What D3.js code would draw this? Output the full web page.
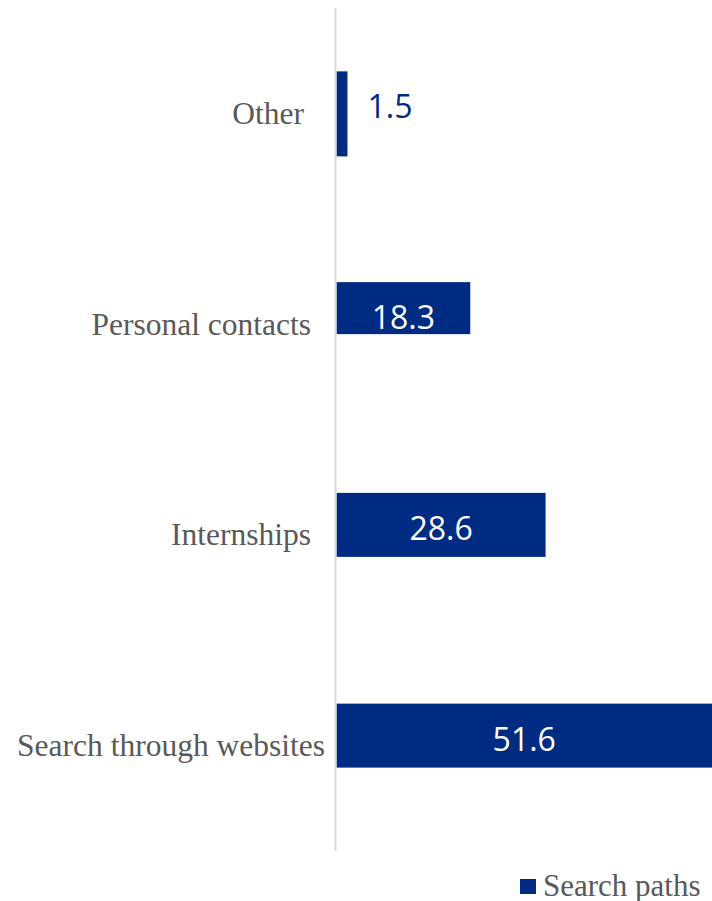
<!DOCTYPE html>
<html lang="en">
<head>
<meta charset="UTF-8">
<title>Search paths</title>
<style>
  body { margin: 0; background: #fff; }
</style>
</head>
<body>
<div id="chart"></div>
<script src="https://cdn.jsdelivr.net/npm/d3@7"></script>
<script>
// data
var categories = ["Other", "Personal contacts", "Internships", "Search through websites"];
var values = [1.5, 18.3, 28.6, 51.6];
var seriesName = "Search paths";

// look
var width = 712, height = 901;
var barColor = "#002b82";
var labelGray = "#595959";
// bar thickness per row, as drawn in the original
var thickness = { "Other": 85, "Personal contacts": 52, "Internships": 64, "Search through websites": 64 };
// right edge of each category label
var labelRight = { "Other": 304, "Personal contacts": 311, "Internships": 311, "Search through websites": 325 };

var svg = d3.select("#chart").append("svg")
  .attr("width", width)
  .attr("height", height);

var x = d3.scaleLinear()
  .domain([0, 51.6])
  .range([336.5, 713.7]);

var y = d3.scaleBand()
  .domain(categories)
  .range([8, 851])
  .padding(0);

var rows = categories.map(function(c, i) { return { cat: c, val: values[i] }; });

// bars
svg.selectAll("rect.bar")
  .data(rows)
  .enter().append("rect")
    .attr("class", "bar")
    .attr("x", x(0))
    .attr("y", function(d) { return y(d.cat) + y.bandwidth() / 2 - 42; })
    .attr("width", function(d) { return x(d.val) - x(0); })
    .attr("height", function(d) { return thickness[d.cat]; })
    .style("fill", barColor);

// vertical axis line
svg.append("line")
  .attr("x1", 335.5).attr("x2", 335.5)
  .attr("y1", y.range()[0]).attr("y2", y.range()[1])
  .style("stroke", "#d9d9d9")
  .style("stroke-width", 2);

// category labels
svg.selectAll("text.cat")
  .data(rows)
  .enter().append("text")
    .attr("class", "cat")
    .attr("x", function(d) { return labelRight[d.cat]; })
    .attr("y", function(d) { return y(d.cat) + y.bandwidth() / 2 + 10.5; })
    .attr("text-anchor", "end")
    .style("font-family", "'Liberation Serif', 'Times New Roman', serif")
    .style("font-size", "31.5px")
    .style("fill", labelGray)
    .text(function(d) { return d.cat; });

// value labels
svg.selectAll("text.val")
  .data(rows)
  .enter().append("text")
    .attr("class", "val")
    .attr("x", function(d) {
      var end = Math.min(x(d.val), width);
      if (end - x(0) < 60) return end + 20;
      return (x(0) + end) / 2;
    })
    .attr("y", function(d) { return y(d.cat) + y.bandwidth() / 2 + 5; })
    .attr("text-anchor", function(d) { return x(d.val) - x(0) < 60 ? "start" : "middle"; })
    .style("font-family", "'Open Sans', 'Noto Sans', sans-serif")
    .style("font-size", "32px")
    .style("fill", function(d) { return x(d.val) - x(0) < 60 ? barColor : "#fff"; })
    .text(function(d) { return d3.format(".1f")(d.val); });

// legend
var legend = svg.append("g").attr("transform", "translate(520,879)");
legend.append("rect")
  .attr("width", 16).attr("height", 15)
  .style("fill", barColor);
legend.append("text")
  .attr("x", 23).attr("y", 17)
  .style("font-family", "'Liberation Serif', 'Times New Roman', serif")
  .style("font-size", "31px")
  .style("fill", labelGray)
  .text(seriesName);
</script>
</body>
</html>
